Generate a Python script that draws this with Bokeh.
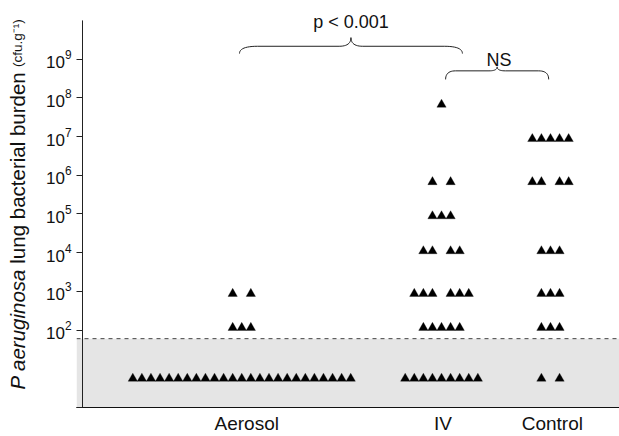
import math
from bokeh.plotting import figure
from bokeh.layouts import row
from bokeh.models import FixedTicker, Span, BoxAnnotation, Label, ColumnDataSource
from bokeh.embed import file_html
from bokeh.resources import INLINE

# ---------------- data ----------------
groups = ["Aerosol", "IV", "Control"]
below_limit_value = 5.6          # where counts below detection are drawn
detection_limit = 60
aerosol_levels = [870, 115, below_limit_value]
aerosol_counts = [2, 3, 25]
iv_levels = [6.7e7, 6.7e5, 8.8e4, 1.1e4, 870, 115, below_limit_value]
iv_counts = [1, 2, 3, 4, 6, 5, 9]
control_levels = [8.7e6, 6.7e5, 1.1e4, 870, 115, below_limit_value]
control_counts = [5, 4, 3, 3, 3, 2]
y_ticks = [1, 100, 1000, 10**4, 10**5, 10**6, 10**7, 10**8, 10**9]
y_axis_top = 1e10
y_label_parts = ["P aeruginosa", "lung bacterial burden", "(cfu.g⁻¹)"]
comparison_texts = ["p < 0.001", "NS"]

# ---------------- layout ----------------
FONT = "Liberation Sans"
TOTAL_W, H = 619, 436
LABEL_W = 36                      # strip holding the y-axis title
W = TOTAL_W - LABEL_W
BL, BR, BT, BB = 40, 0, 0, 27
FRAME_W = W - BL - BR
FRAME_H = H - BT - BB
PX_PER_DEC = 38.9
LOG_TOP = math.log10(y_axis_top) + (FRAME_H - 10 * PX_PER_DEC) / PX_PER_DEC
X_RANGE = (-18.2, 41.6)           # one unit = one symbol width
Y_RANGE = (1, 10 ** LOG_TOP)
CAT_X = {"Aerosol": 0, "IV": 22, "Control": 34}
LABEL_SHIFT = {"Aerosol": 0.55, "IV": 0.15, "Control": 0.2}
PX_PER_X = FRAME_W / (X_RANGE[1] - X_RANGE[0])
PAGE_LEFT = LABEL_W + BL


def x_at(px):
    return X_RANGE[0] + (px - PAGE_LEFT) / PX_PER_X


def ly_at(py):
    return LOG_TOP - (py - BT) / PX_PER_DEC


def y_at(py):
    return 10 ** ly_at(py)


def offsets(n):
    if n % 2:
        return [k - (n - 1) / 2 for k in range(n)]
    half = n // 2
    return [-k for k in range(half, 0, -1)] + [k for k in range(1, half + 1)]


xs, ys = [], []
for g, levels, counts in [("Aerosol", aerosol_levels, aerosol_counts),
                          ("IV", iv_levels, iv_counts),
                          ("Control", control_levels, control_counts)]:
    for lv, n in zip(levels, counts):
        for o in offsets(n):
            xs.append(CAT_X[g] + o)
            ys.append(lv)

p = figure(width=W, height=H, x_range=X_RANGE, y_range=Y_RANGE, y_axis_type="log",
           output_backend="svg", toolbar_location=None,
           min_border_left=BL, min_border_right=BR, min_border_top=BT, min_border_bottom=BB)
p.outline_line_color = None
p.grid.visible = False
p.background_fill_color = "white"
p.border_fill_color = "white"

# shaded "below detection" band and dashed limit line
p.add_layout(BoxAnnotation(top=detection_limit, fill_color="#e5e5e5", fill_alpha=1,
                           line_color=None, level="underlay"))
p.add_layout(Span(location=detection_limit, dimension="width", line_color="#444444",
                  line_width=1, line_dash="4 4"))

# y axis: ticks drawn inwards from the frame edge, axis line drawn as a segment
p.yaxis.ticker = FixedTicker(ticks=y_ticks, minor_ticks=[])
p.yaxis.major_label_overrides = {1: ""}
p.yaxis.axis_line_color = None
p.yaxis.major_tick_in = 6
p.yaxis.major_tick_out = 0
p.yaxis.major_tick_line_color = "#222222"
p.yaxis.major_label_standoff = 5
p.yaxis.major_label_text_font = FONT
p.yaxis.major_label_text_font_size = "17px"
p.yaxis.major_label_text_color = "#111111"
axis_x = x_at(82)
p.segment(x0=[axis_x], y0=[y_ticks[0]], x1=[axis_x], y1=[y_axis_top],
          line_color="#222222", line_width=1)

# x axis: line plus category names
label_ticks = [CAT_X[g] + LABEL_SHIFT[g] for g in groups]
p.xaxis.ticker = FixedTicker(ticks=label_ticks)
p.xaxis.major_label_overrides = dict(zip(label_ticks, groups))
p.xaxis.axis_line_color = "#111111"
p.xaxis.major_tick_out = 0
p.xaxis.major_tick_in = 0
p.xaxis.major_label_standoff = 5
p.xaxis.major_label_text_font = FONT
p.xaxis.major_label_text_font_size = "19px"
p.xaxis.major_label_text_color = "#111111"

src = ColumnDataSource(dict(x=xs, y=ys))
p.scatter("x", "y", source=src, marker="triangle", size=9.3,
          fill_color="black", line_color="black", line_width=0.3)


# comparison braces
def quad(p0, c, p1, n=12):
    pts = []
    for i in range(n + 1):
        t = i / n
        pts.append(((1 - t) ** 2 * p0[0] + 2 * (1 - t) * t * c[0] + t ** 2 * p1[0],
                    (1 - t) ** 2 * p0[1] + 2 * (1 - t) * t * c[1] + t ** 2 * p1[1]))
    return pts


def brace(x0, x1, le, lm, lt, we, wt):
    xc = (x0 + x1) / 2
    pts = quad((x0, le), (x0, lm), (x0 + we, lm))
    pts += quad((xc - wt, lm), (xc, lm), (xc, lt))
    pts += quad((xc, lt), (xc, lm), (xc + wt, lm))
    pts += quad((x1 - we, lm), (x1, lm), (x1, le))
    return [q[0] for q in pts], [10 ** q[1] for q in pts]


big = (CAT_X["Aerosol"] - 0.25, CAT_X["IV"] + 2.3)
small = (CAT_X["IV"] + 0.45, CAT_X["Control"] - 0.2)
bx, by = brace(big[0], big[1], ly_at(53.3), ly_at(46), ly_at(37.3), 2.0, 1.3)
p.line(bx, by, line_color="#222222", line_width=1)
sx, sy = brace(small[0], small[1], ly_at(79.3), ly_at(70.7), ly_at(66.7), 1.1, 0.9)
p.line(sx, sy, line_color="#222222", line_width=1)

p.add_layout(Label(x=sum(big) / 2, y=y_at(22),
                   text=comparison_texts[0], text_align="center", text_baseline="alphabetic",
                   text_font=FONT, text_font_size="18px", text_color="#111111"))
p.add_layout(Label(x=sum(small) / 2 + 0.2, y=y_at(59.5),
                   text=comparison_texts[1], text_align="center", text_baseline="alphabetic",
                   text_font=FONT, text_font_size="18px", text_color="#111111"))

# ---------------- strip with the y-axis title (three styled pieces) ----------------
# its frame lines up with the main frame (page rows 0 .. H-BB)
t = figure(width=LABEL_W, height=H, x_range=(0, LABEL_W), y_range=(H - BB, 0),
           output_backend="svg", toolbar_location=None,
           x_axis_location=None, y_axis_location=None,
           min_border_left=0, min_border_right=0, min_border_top=BT, min_border_bottom=BB)
t.outline_line_color = None
t.grid.visible = False
t.border_fill_color = "white"
t.background_fill_color = "white"

main_fs, unit_fs = 20.5, 13.5
start = 391
piece_starts = [start, start - (5.892 + 0.278) * main_fs,
                start - (5.892 + 0.278 + 9.338 + 0.3) * main_fs]
styles = [("italic", main_fs), ("normal", main_fs), ("normal", unit_fs)]
for txt, py, (st, fs) in zip(y_label_parts, piece_starts, styles):
    t.add_layout(Label(x=17, y=py, text=txt, angle=math.pi / 2,
                       text_align="left", text_baseline="alphabetic",
                       text_font=FONT, text_font_style=st,
                       text_font_size=f"{fs}px", text_color="#111111"))

layout = row(t, p, spacing=0)
open("out.html", "w").write(file_html(layout, INLINE))
